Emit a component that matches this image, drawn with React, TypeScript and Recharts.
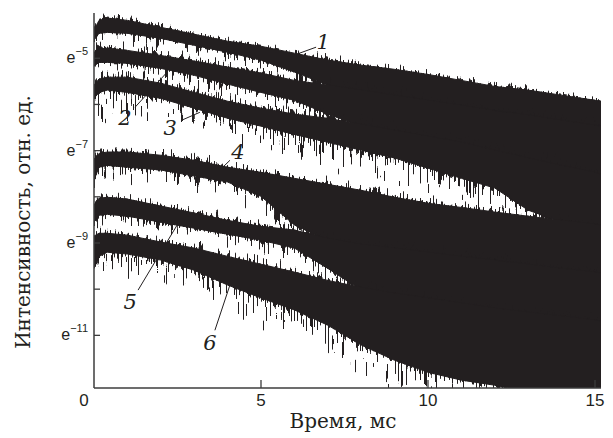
import React from "react";
import { ComposedChart, Area, XAxis, YAxis, ReferenceLine, ReferenceDot } from "recharts";

// time, ms
const TIME = [0, 0.15, 0.4, 1, 2, 3, 4, 5, 6, 7, 8, 9, 10, 11, 12, 13, 14, 15, 15.2];

// ln(intensity): upper and lower edge of each noisy trace
const S1_HI = [-4.39, -4.18, -4.13, -4.18, -4.33, -4.48, -4.63, -4.74, -4.89, -5.04, -5.15, -5.24, -5.35, -5.48, -5.61, -5.69, -5.8, -5.91, -5.93];
const S1_LO = [-4.61, -4.46, -4.44, -4.46, -4.57, -4.72, -4.87, -5.04, -5.3, -5.58, -5.87, -6.13, -6.34, -6.56, -6.77, -6.99, -7.21, -7.42, -7.47];
const S2_HI = [-4.87, -4.81, -4.78, -4.83, -4.94, -5.06, -5.19, -5.32, -5.48, -5.58, -5.69, -5.8, -5.91, -6.02, -6.13, -6.23, -6.34, -6.45, -6.47];
const S2_LO = [-5.17, -5.09, -5.09, -5.11, -5.22, -5.37, -5.56, -5.74, -5.91, -6.21, -6.47, -6.67, -6.82, -6.99, -7.21, -7.42, -7.64, -7.86, -7.9];
const S3_HI = [-5.58, -5.45, -5.41, -5.41, -5.54, -5.74, -5.93, -6.08, -6.21, -6.3, -6.43, -6.56, -6.69, -6.82, -6.99, -7.16, -7.32, -7.47, -7.51];
const S3_LO = [-5.87, -5.74, -5.69, -5.74, -5.87, -6.08, -6.3, -6.47, -6.65, -6.82, -6.99, -7.16, -7.38, -7.6, -7.81, -8.29, -8.55, -8.77, -8.85];
const S4_HI = [-7.21, -7.06, -7.03, -7.03, -7.1, -7.21, -7.36, -7.47, -7.6, -7.73, -7.86, -8.01, -8.14, -8.23, -8.33, -8.42, -8.51, -8.59, -8.61];
const S4_LO = [-7.64, -7.36, -7.32, -7.36, -7.42, -7.55, -7.68, -7.99, -8.61, -8.94, -9.26, -9.55, -9.76, -9.98, -10.19, -10.41, -10.63, -10.84, -10.89];
const S5_HI = [-8.18, -8.03, -8.01, -8.05, -8.2, -8.35, -8.51, -8.64, -8.72, -8.9, -9.03, -9.11, -9.2, -9.29, -9.37, -9.46, -9.55, -9.63, -9.65];
const S5_LO = [-8.55, -8.4, -8.38, -8.42, -8.55, -8.68, -8.81, -8.94, -9.11, -9.55, -10.02, -10.35, -10.67, -11.0, -11.32, -11.64, -11.97, -12.29, -12.36];
const S6_HI = [-8.85, -8.79, -8.79, -8.83, -8.98, -9.11, -9.29, -9.46, -9.63, -9.81, -9.96, -10.09, -10.19, -10.3, -10.41, -10.5, -10.58, -10.67, -10.69];
const S6_LO = [-9.55, -9.29, -9.2, -9.24, -9.37, -9.59, -9.91, -10.19, -10.45, -10.78, -11.21, -11.54, -11.8, -11.97, -12.08, -12.23, -12.4, -12.51, -12.53];

const X_TICKS = [0, 5, 10, 15];
const Y_TICKS = [-11, -10, -9, -8, -7, -6, -5];

// curve labels with leader lines: [label, label t, label v, t1, v1, t2, v2]
const CURVE_LABELS: [string, number, number, number, number, number, number][] = [
  ["1", 6.86, -4.65, 5.81, -4.98, 6.65, -4.76],
  ["2", 0.93, -6.3, 1.23, -6.06, 2.19, -5.3],
  ["3", 2.28, -6.52, 2.63, -6.34, 3.17, -6.17],
  ["4", 4.31, -7.03, 4.07, -7.21, 3.77, -7.42],
  ["5", 1.08, -10.28, 1.32, -10.02, 2.49, -8.61],
  ["6", 3.47, -11.17, 3.62, -10.89, 4.07, -9.91],
];

const INK = "#231f20";
const AXIS = "#3c3c3c";

const EDGES: [string, number[], number[]][] = [
  ["s1", S1_LO, S1_HI],
  ["s2", S2_LO, S2_HI],
  ["s3", S3_LO, S3_HI],
  ["s4", S4_LO, S4_HI],
  ["s5", S5_LO, S5_HI],
  ["s6", S6_LO, S6_HI],
];

const rows = TIME.map((t, i) => {
  const r: any = { t };
  EDGES.forEach(([k, lo, hi]) => {
    r[k] = [lo[i], hi[i]];
  });
  return r;
});

// how ragged each trace's edges look (vertical noise texture)
const ROUGH: Record<string, string> = { s1: "soft", s2: "mid", s3: "hard", s4: "mid", s5: "mid", s6: "hard" };

const CSS = `
.rough-soft { filter: url(#noise-soft); }
.rough-mid { filter: url(#noise-mid); }
.rough-hard { filter: url(#noise-hard); }
`;

const SPREAD_EVEN = "0 0 0.02 0.2 0.42 0.5 0.56 0.64 0.72 0.8 0.85";
const SPREAD_DOWN = "0 0 0.02 0.2 0.42 0.5 0.54 0.59 0.64 0.68 0.72";

// texture only: the shifted copy is merged over the band, so spikes only grow outward
function NoiseFilter({ id, scale, seed, spread }: { id: string; scale: number; seed: number; spread: string }) {
  return (
    <filter id={id} x="94" y="13" width="507" height="375" filterUnits="userSpaceOnUse" colorInterpolationFilters="sRGB">
      <feTurbulence type="fractalNoise" baseFrequency="0.6 0.03" numOctaves={2} seed={seed} result="turb" />
      <feColorMatrix in="turb" type="matrix" values="0 0 0 0 0.5  0 1 0 0 0  0 0 0 0 0  0 0 0 0 1" result="disp" />
      <feComponentTransfer in="disp" result="disp2">
        <feFuncG type="table" tableValues={spread} />
      </feComponentTransfer>
      <feDisplacementMap in="SourceGraphic" in2="disp2" scale={scale} xChannelSelector="R" yChannelSelector="G" result="moved" />
      <feMerge>
        <feMergeNode in="moved" />
        <feMergeNode in="SourceGraphic" />
      </feMerge>
    </filter>
  );
}

function YTick(props: any) {
  const { x, y, payload } = props;
  const v = payload.value;
  return (
    <g>
      <line x1={x} x2={x + 6} y1={y} y2={y} stroke={AXIS} strokeWidth={1.3} />
      {v % 2 !== 0 && (
        <text x={x - 6} y={y + 5} textAnchor="end" fontFamily="'Liberation Sans', Arial, sans-serif" fontSize={16} fill={INK}>
          e
          <tspan dy={-8} fontSize={11}>
            {"\u2212" + -v}
          </tspan>
        </text>
      )}
    </g>
  );
}

function XTick(props: any) {
  const { x, y, payload } = props;
  const v = payload.value;
  return (
    <g>
      {v !== 0 && <line x1={x} x2={x} y1={y} y2={y - 8} stroke={AXIS} strokeWidth={1.3} />}
      <text x={v === 0 ? x - 10 : x} y={y + 18} textAnchor="middle" fontFamily="'Liberation Sans', Arial, sans-serif" fontSize={17} fill={INK}>
        {v}
      </text>
    </g>
  );
}

export default function App() {
  return (
    <div style={{ position: "absolute", left: 0, top: 0, width: 613, height: 438, background: "#fff" }}>
      <style>{CSS}</style>
      <ComposedChart width={613} height={438} data={rows} margin={{ top: 13, right: 12, bottom: 49, left: 93 }}>
        <defs>
          <NoiseFilter id="noise-soft" scale={26} seed={4} spread={SPREAD_EVEN} />
          <NoiseFilter id="noise-mid" scale={36} seed={9} spread={SPREAD_EVEN} />
          <NoiseFilter id="noise-hard" scale={66} seed={17} spread={SPREAD_DOWN} />
        </defs>
        <XAxis
          dataKey="t"
          type="number"
          domain={[0, 15.18]}
          ticks={X_TICKS}
          allowDataOverflow
          height={1}
          tickSize={0}
          tickMargin={0}
          tickLine={false}
          tick={<XTick />}
          axisLine={{ stroke: AXIS, strokeWidth: 1.5 }}
        />
        <YAxis
          type="number"
          domain={[-12.14, -4.02]}
          ticks={Y_TICKS}
          allowDataOverflow
          width={1}
          tickSize={0}
          tickMargin={0}
          tickLine={false}
          tick={<YTick />}
          axisLine={{ stroke: AXIS, strokeWidth: 1.5 }}
        />
        {EDGES.map(([k]) => (
          <Area
            key={k}
            className={"rough-" + ROUGH[k]}
            dataKey={k}
            type="linear"
            stroke={INK}
            strokeWidth={1}
            fill={INK}
            fillOpacity={1}
            isAnimationActive={false}
            dot={false}
            activeDot={false}
          />
        ))}
        {CURVE_LABELS.map(([lab, lt, lv, t1, v1, t2, v2]) => (
          <ReferenceLine
            key={"l" + lab}
            segment={[
              { x: t1, y: v1 },
              { x: t2, y: v2 },
            ]}
            stroke={INK}
            strokeWidth={1}
          />
        ))}
        {CURVE_LABELS.map(([lab, lt, lv]) => (
          <ReferenceDot
            key={"d" + lab}
            x={lt}
            y={lv}
            r={1}
            shape={(p: any) => (
              <text
                x={p.cx}
                y={p.cy + 7}
                textAnchor="middle"
                fontFamily="'DejaVu Serif', serif"
                fontStyle="italic"
                fontSize={21}
                fill={INK}
              >
                {lab}
              </text>
            )}
          />
        ))}
      </ComposedChart>
      <div
        style={{
          position: "absolute",
          left: 343,
          top: 421,
          transform: "translate(-50%, -50%)",
          fontFamily: "'DejaVu Serif', serif",
          fontSize: 20,
          color: INK,
          whiteSpace: "nowrap",
        }}
      >
        Время, мс
      </div>
      <div
        style={{
          position: "absolute",
          left: 23,
          top: 222,
          transform: "translate(-50%, -50%) rotate(-90deg)",
          fontFamily: "'DejaVu Serif', serif",
          fontSize: 20,
          color: INK,
          whiteSpace: "nowrap",
        }}
      >
        Интенсивность, отн. ед.
      </div>
    </div>
  );
}
